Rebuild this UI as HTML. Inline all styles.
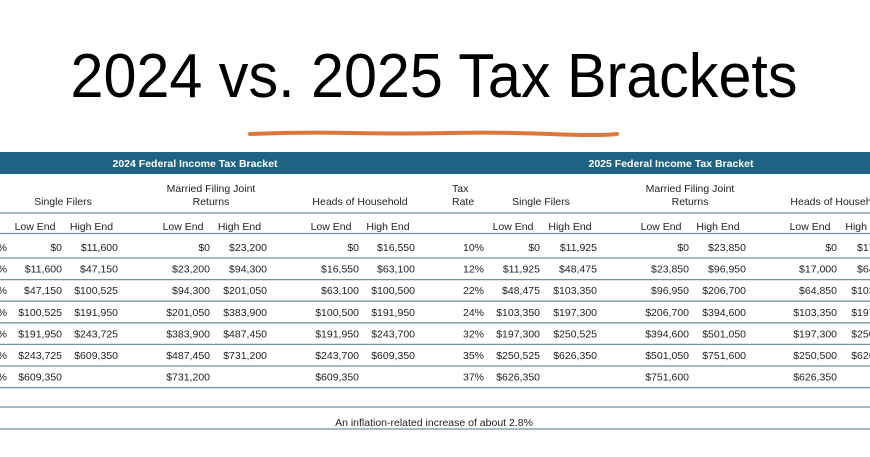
<!DOCTYPE html>
<html><head><meta charset="utf-8"><style>
html,body{margin:0;padding:0;background:#fff;}
svg{display:block;font-family:"Liberation Sans",Arial,sans-serif;}
</style></head><body>
<svg id="chart" width="870" height="457" viewBox="0 0 870 457" xmlns="http://www.w3.org/2000/svg">
<rect width="870" height="457" fill="#fff"/>
<text x="434" y="97" font-size="62" text-anchor="middle" textLength="727" lengthAdjust="spacingAndGlyphs" fill="#000">2024 vs. 2025 Tax Brackets</text>
<path d="M250 134 Q300 132 350 133 T450 133 T550 134 T617 134" stroke="#e0773a" stroke-width="4" fill="none" stroke-linecap="round"/>
<rect x="0" y="152" width="870" height="22" fill="#1f6283"/>
<text x="195" y="167" font-size="10.5" font-weight="bold" fill="#fff" text-anchor="middle">2024 Federal Income Tax Bracket</text>
<text x="671" y="167" font-size="10.5" font-weight="bold" fill="#fff" text-anchor="middle">2025 Federal Income Tax Bracket</text>
<g id="body"></g>
<text x="434" y="426" font-size="10.5" fill="#222" text-anchor="middle">An inflation-related increase of about 2.8%</text>
</svg>
<script>
const rates = ["10%","12%","22%","24%","32%","35%","37%"];
const single2024Low = [0,11600,47150,100525,191950,243725,609350];
const single2024High = [11600,47150,100525,191950,243725,609350,null];
const married2024Low = [0,23200,94300,201050,383900,487450,731200];
const married2024High = [23200,94300,201050,383900,487450,731200,null];
const hoh2024Low = [0,16550,63100,100500,191950,243700,609350];
const hoh2024High = [16550,63100,100500,191950,243700,609350,null];
const single2025Low = [0,11925,48475,103350,197300,250525,626350];
const single2025High = [11925,48475,103350,197300,250525,626350,null];
const married2025Low = [0,23850,96950,206700,394600,501050,751600];
const married2025High = [23850,96950,206700,394600,501050,751600,null];
const hoh2025Low = [0,17000,64850,103350,197300,250500,626350];
const hoh2025High = [17000,64850,103350,197300,250500,626350,null];

const NS="http://www.w3.org/2000/svg";
const g=document.getElementById('body');
function txt(x,y,s,anchor,name){
  const t=document.createElementNS(NS,'text');
  t.setAttribute('x',x);t.setAttribute('y',y);t.setAttribute('font-size','10.5');
  t.setAttribute('fill','#222');t.setAttribute('text-anchor',anchor);
  t.textContent=s;
  
  
  g.appendChild(t);
}
function line(y,name){
  const l=document.createElementNS(NS,'line');
  l.setAttribute('x1',0);l.setAttribute('x2',870);l.setAttribute('y1',y);l.setAttribute('y2',y);
  l.setAttribute('stroke','#7590a3');l.setAttribute('stroke-width','1.3');
  
  
  g.appendChild(l);
}
const fmt=v=>v===null?"":"$"+v.toLocaleString('en-US');
const rowY=i=>248+i*21.6;
// group headers
txt(63,205,"Single Filers","middle","group-header");
txt(211,192,"Married Filing Joint","middle","group-header");
txt(211,205,"Returns","middle","group-header");
txt(360,205,"Heads of Household","middle","group-header");
txt(452,192,"Tax","start","group-header");
txt(452,205,"Rate","start","group-header");
txt(541,205,"Single Filers","middle","group-header");
txt(690,192,"Married Filing Joint","middle","group-header");
txt(690,205,"Returns","middle","group-header");
txt(838,205,"Heads of Household","middle","group-header");
const subX=[35,91.5,183,239.5,331,388,513,570,661,718,810,867];
subX.forEach((x,i)=>txt(x,230,i%2?"High End":"Low End","middle","sub-header"));
line(213,"header-rule");line(233.5,"header-rule");
const cols=[[62,single2024Low],[118,single2024High],[210,married2024Low],[267,married2024High],[359,hoh2024Low],[415,hoh2024High],
 [540,single2025Low],[597,single2025High],[689,married2025Low],[746,married2025High],[837,hoh2025Low],[895,hoh2025High]];
rates.forEach((r,i)=>{
  const y=rowY(i)+3;
  txt(7,y,r,"end","rate-2024");
  txt(484,y,r,"end","rate-2025");
  cols.forEach(([x,arr])=>txt(x,y,fmt(arr[i]),"end","bracket-value"));
  line(rowY(i)+10,"row-rule");
});
line(407,"table-rule");line(429,"table-rule");
</script>
</body></html>
